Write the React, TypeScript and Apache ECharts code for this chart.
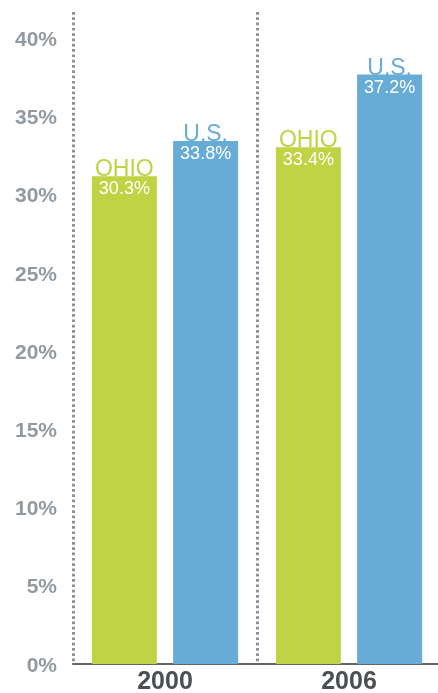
import React, { useEffect, useRef } from "react";
import * as echarts from "echarts";

const years = ["2000", "2006"];
const ohioValues = [31.2, 33.05];
const usValues = [33.45, 37.7];
const ohioLabels = ["30.3%", "33.4%"];
const usLabels = ["33.8%", "37.2%"];
const seriesNames = ["OHIO", "U.S."];
const yTicks = [0, 5, 10, 15, 20, 25, 30, 35, 40];

const GREEN = "#bfd345";
const BLUE = "#67acd6";
const FONT = "Liberation Sans, Arial, sans-serif";

function makeLabel(name: string, color: string, labels: string[]) {
  return {
    show: true,
    position: "top",
    distance: 0,
    offset: [0, 21],
    fontFamily: FONT,
    formatter: (p: any) => `{n|${name}}\n{v|${labels[p.dataIndex]}}`,
    rich: {
      n: { fontSize: 23, lineHeight: 22, color, fontFamily: FONT },
      v: { fontSize: 18, lineHeight: 18, color: "#ffffff", fontFamily: FONT },
    },
  };
}

export default function App() {
  const ref = useRef<HTMLDivElement>(null);
  useEffect(() => {
    if (!ref.current) return;
    const chart = echarts.init(ref.current, null, { renderer: "svg" });
    chart.setOption({
      animation: false,
      grid: {
        left: 73,
        width: 368,
        top: 12,
        bottom: 29,
        containLabel: false,
        outerBoundsMode: "none",
      },
      xAxis: {
        type: "category",
        data: years,
        axisLine: { show: true, lineStyle: { color: "#5f666a", width: 2 } },
        axisTick: { show: false },
        axisLabel: {
          fontFamily: FONT,
          fontSize: 25,
          lineHeight: 22,
          fontWeight: "bold",
          color: "#4a5053",
          margin: 5,
        },
        splitLine: {
          show: true,
          lineStyle: { color: "#8a9299", width: 3, type: [2.7, 2.6] },
        },
      },
      yAxis: {
        type: "value",
        min: yTicks[0],
        max: 41.7,
        interval: 5,
        axisLine: { show: false },
        axisTick: { show: false },
        splitLine: { show: false },
        axisLabel: {
          showMaxLabel: false,
          fontFamily: FONT,
          fontSize: 21,
          fontWeight: "bold",
          color: "#939a9f",
          margin: 16,
          formatter: (v: number) => `${v}%`,
        },
      },
      series: [
        {
          name: seriesNames[0],
          type: "bar",
          data: ohioValues,
          barWidth: 65,
          barGap: "25%",
          itemStyle: { color: GREEN },
          label: makeLabel(seriesNames[0], GREEN, ohioLabels),
        },
        {
          name: seriesNames[1],
          type: "bar",
          data: usValues,
          barWidth: 65,
          barGap: "25%",
          itemStyle: { color: BLUE },
          label: makeLabel(seriesNames[1], BLUE, usLabels),
        },
      ],
    });
    return () => chart.dispose();
  }, []);
  return (
    <div
      ref={ref}
      style={{ position: "fixed", left: 0, top: 0, width: 438, height: 693 }}
    />
  );
}
